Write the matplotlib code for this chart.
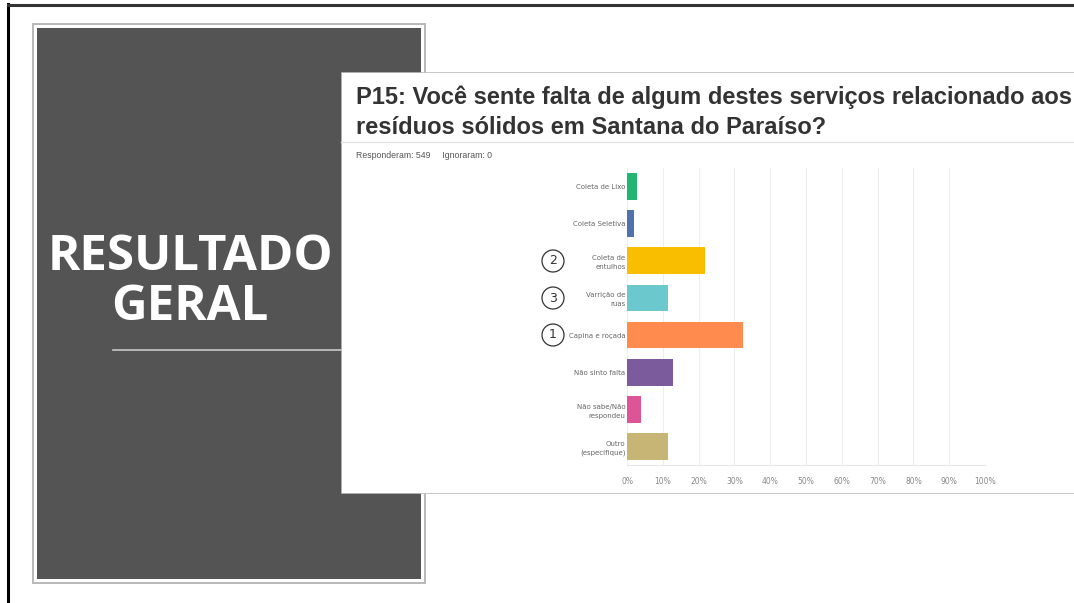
import matplotlib.pyplot as plt
from matplotlib.patches import Rectangle, Circle
import numpy as np

# survey answers, P15
categories = ['Coleta de Lixo', 'Coleta Seletiva', 'Coleta de\nentulhos', 'Varrição de\nruas',
              'Capina e roçada', 'Não sinto falta', 'Não sabe/Não\nrespondeu', 'Outro\n(especifique)']
percent = [2.8, 1.9, 21.7, 11.4, 32.5, 12.8, 3.9, 11.4]
colors = ['#22b573', '#4f72ad', '#f9be00', '#6bc8cd', '#ff8b4f', '#7b5b9c', '#dd5596', '#c6b574']
ranks = {2: '2', 3: '3', 4: '1'}   # circled ranking next to some answers
xticks = np.arange(0, 101, 10)
xticklabels = [f'{t}%' for t in xticks]

W, H = 1074, 603
fig = plt.figure(figsize=(W / 100, H / 100), dpi=100)
fig.patch.set_facecolor('white')

# slide background in pixel coordinates
bg = fig.add_axes([0, 0, 1, 1])
bg.set_xlim(0, W)
bg.set_ylim(H, 0)
bg.axis('off')

bg.plot([8, 8], [4, H], color='black', lw=2.2)
bg.plot([8, W], [4.5, 4.5], color='#333333', lw=2.2)

bg.add_patch(Rectangle((33, 24), 392, 559, facecolor='none', edgecolor='#b8b8b8', lw=1.4))
bg.add_patch(Rectangle((37, 28), 384, 551, facecolor='#545454', edgecolor='none'))
bg.text(190, 257, 'RESULTADO', color='white', fontsize=35.5, fontweight='bold',
        family='Open Sans', ha='center', va='center')
bg.text(190, 307, 'GERAL', color='white', fontsize=35.5, fontweight='bold',
        family='Open Sans', ha='center', va='center')
bg.plot([113, 341], [350, 350], color='#c8c8c8', lw=1.2)

# survey panel
bg.add_patch(Rectangle((341, 72), W - 341, 421, facecolor='white', edgecolor='#b0b0b0', lw=0.5))
bg.text(356, 97, 'P15: Você sente falta de algum destes serviços relacionado aos',
        fontsize=17, fontweight='bold', family='Liberation Sans', color='#333333', va='center')
bg.text(356, 127, 'resíduos sólidos em Santana do Paraíso?',
        fontsize=17, fontweight='bold', family='Liberation Sans', color='#333333', va='center')
bg.plot([341, W], [142, 142], color='#e2e2e2', lw=1)
bg.text(356, 155, 'Responderam: 549     Ignoraram: 0', fontsize=6.3,
        family='Liberation Sans', color='#555555', va='center')

# bar chart
ax = fig.add_axes([627 / W, 1 - 465 / H, (985 - 627) / W, (465 - 168) / H])
y = np.arange(len(categories))
ax.barh(y, percent, height=0.72, color=colors)
ax.set_xlim(0, 100)
ax.set_ylim(len(categories) - 0.5, -0.5)
ax.set_xticks(xticks)
ax.set_xticklabels(xticklabels, fontsize=5.5, color='#888888')
ax.set_yticks(y)
ax.set_yticklabels(categories, fontsize=5, color='#666666', linespacing=1.6)
ax.tick_params(length=0, pad=9)
ax.tick_params(axis='y', pad=1)
ax.grid(axis='x', color='#eeeeee', lw=0.8)
ax.set_axisbelow(True)
for side in ['top', 'right', 'left']:
    ax.spines[side].set_visible(False)
ax.spines['bottom'].set_color('#e6e6e6')

# circled ranking marks
for i, label in ranks.items():
    cy = 187 + 37 * i
    bg.add_patch(Circle((553, cy), 11, facecolor='none', edgecolor='#333333', lw=0.9))
    bg.text(553, cy, label, fontsize=9, color='#333333', ha='center', va='center')

fig.savefig('out.png', dpi=100)
